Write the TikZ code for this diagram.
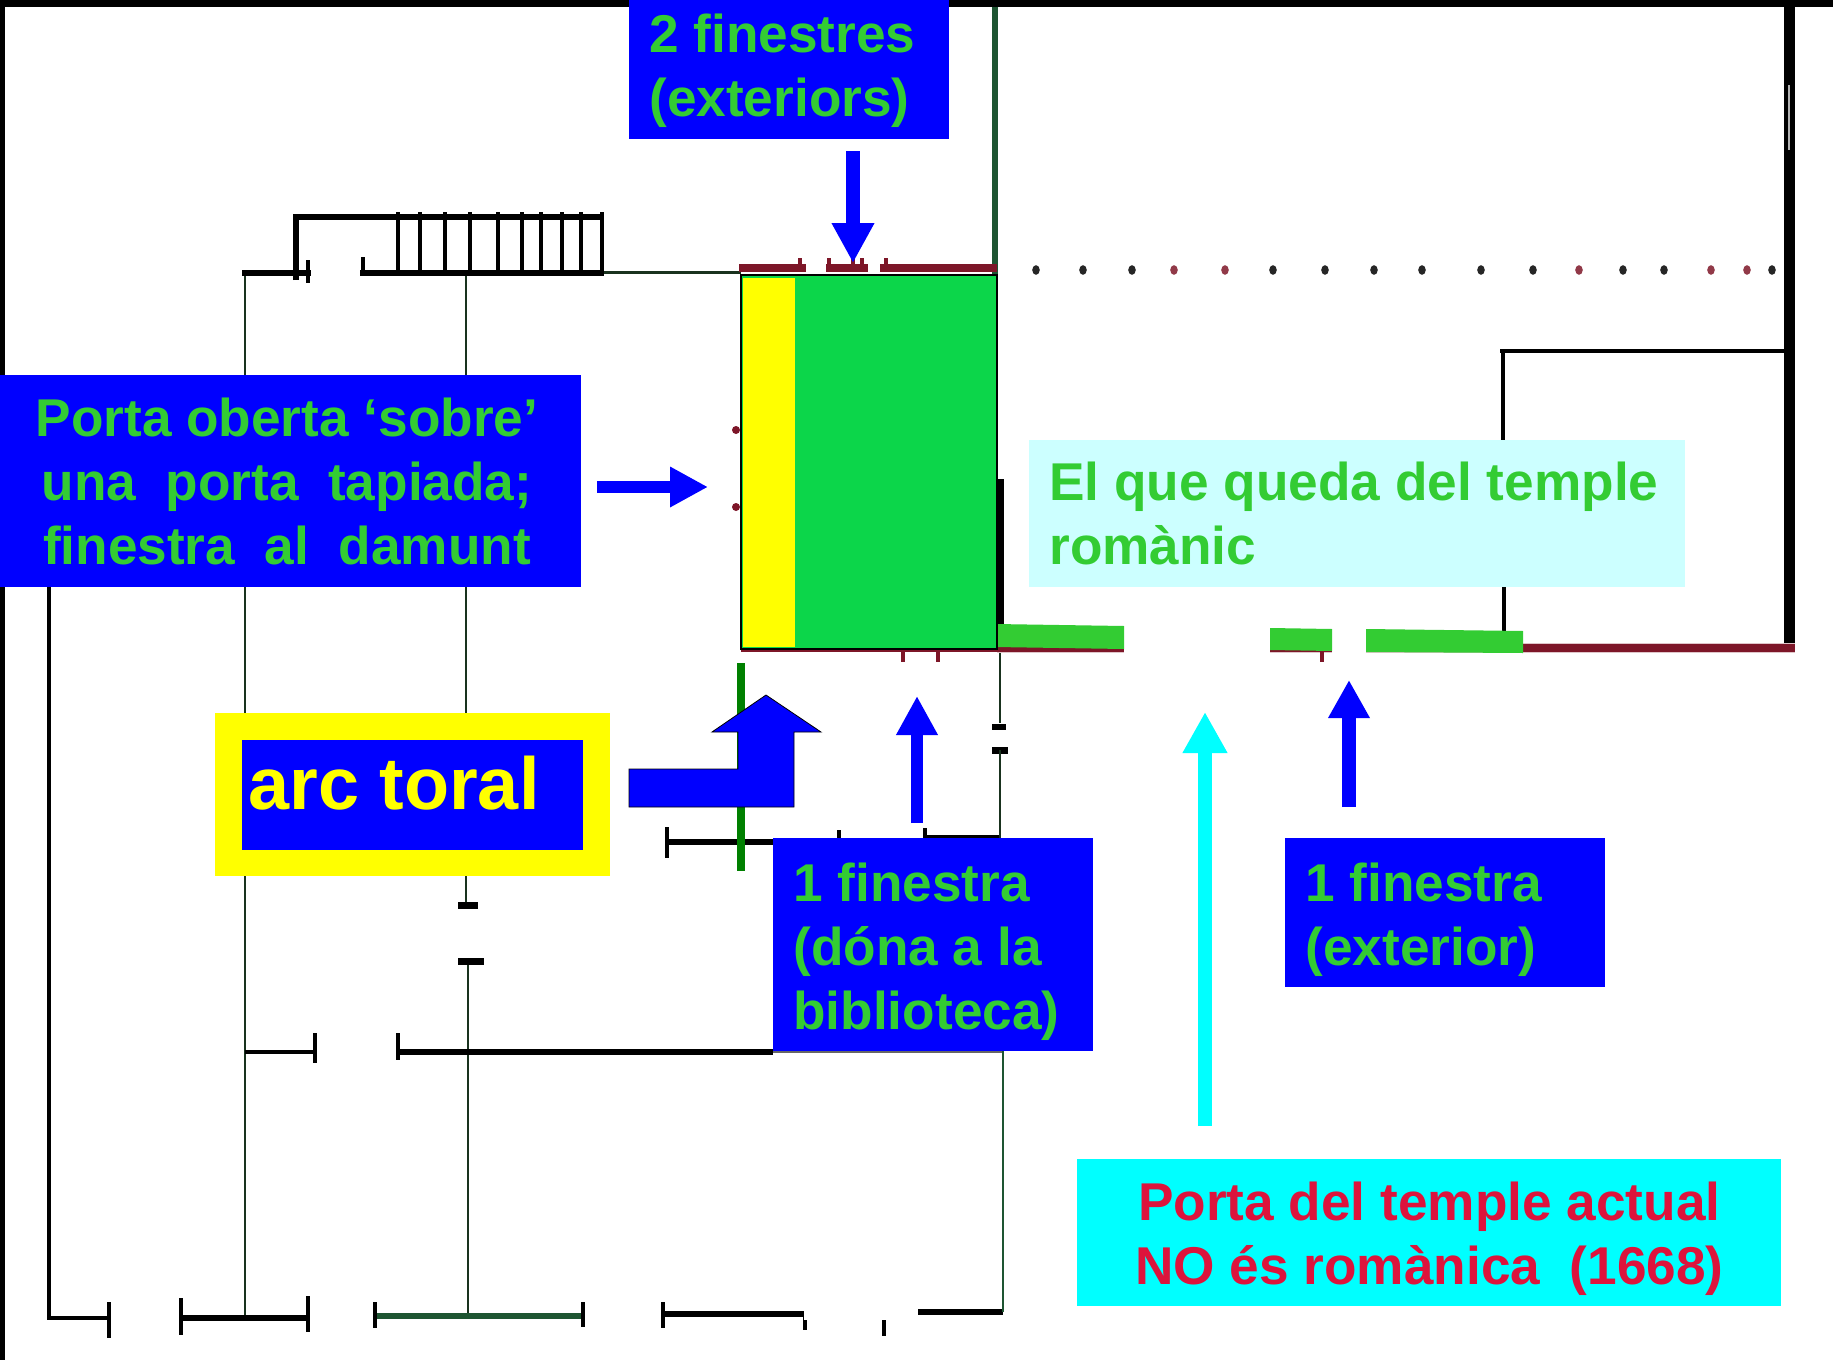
\documentclass[tikz,border=0pt]{standalone}
\usepackage{fontspec}
\setmainfont{Liberation Sans}
\usetikzlibrary{arrows.meta}
\definecolor{tblue}{RGB}{0,0,255}
\definecolor{tgreen}{RGB}{51,204,51}
\definecolor{roomgreen}{RGB}{12,214,74}
\definecolor{paleblue}{RGB}{204,255,255}
\definecolor{tcyan}{RGB}{0,255,255}
\definecolor{tyellow}{RGB}{255,255,0}
\definecolor{tred}{RGB}{220,20,60}
\definecolor{brick}{RGB}{125,22,40}
\definecolor{wallgreen}{RGB}{30,85,50}
\definecolor{inkgreen}{RGB}{25,50,30}
\definecolor{darkbar}{RGB}{0,128,0}
\tikzset{
  px/.style={x=0.5pt,y=-0.5pt},
  wall/.style={draw=black,line width=1.6pt},
  thinwall/.style={draw=inkgreen,line width=1.4pt},
  heavy/.style={draw=black,line width=2.6pt},
  tick/.style={draw=black,line width=2.2pt},
  brickline/.style={draw=brick,line width=3.6pt},
  labelbox/.style={rectangle,anchor=north west,inner ysep=0pt,font=\fontsize{26.6}{32}\selectfont\bfseries,text=tgreen,fill=tblue},
  upblue/.style={draw=tblue,line width=7pt,-{Triangle[length=19.5pt,width=20pt]}},
}
\begin{document}
\begin{tikzpicture}[px]
\useasboundingbox (0,0) rectangle (1833,1360);
\fill[white] (0,0) rectangle (1833,1360);
\fill[black] (0,0) rectangle (1833,7);
\fill[black] (0,0) rectangle (5,1360);

% --- plan: left part
\draw[wall] (49,560) -- (49,1318) -- (107,1318);
\draw[thinwall] (245,273) -- (245,1318);
\draw[thinwall] (466,273) -- (466,903);
\draw[thinwall] (468,961) -- (468,1316);
\draw[heavy] (242,273) -- (311,273);
\draw[heavy] (296,280) -- (296,217) -- (604,217);
\draw[heavy] (360,273) -- (604,273);
\draw[draw=inkgreen,line width=1.5pt] (604,272) -- (741,272);
\foreach \xb in {398,420,445,470,498,522,541,562,581,602}
  \draw[tick] (\xb,212) -- (\xb,273);
\draw[tick] (308,260) -- (308,283);
\draw[tick] (363,257) -- (363,275);
% cross walls
\draw[wall] (245,1052) -- (315,1052);
\draw[tick] (315,1033) -- (315,1063);
\draw[heavy] (398,1052) -- (773,1052);
\draw[tick] (398,1033) -- (398,1060);
\draw[draw=black!60,line width=.6pt] (773,1052) -- (1003,1052);
\draw[heavy] (667,842) -- (839,842);
\draw[tick] (667,827) -- (667,858);
\draw[tick] (839,830) -- (839,842);
\draw[heavy] (925,838) -- (1001,838);
\draw[tick] (925,828) -- (925,838);
\draw[line width=3.5pt] (458,905) -- (478,905);
\draw[line width=3.5pt] (458,961) -- (484,961);
% bottom wall
\draw[tick] (109,1302) -- (109,1338);
\draw[heavy] (181,1318) -- (308,1318);
\draw[tick] (181,1298) -- (181,1335);
\draw[tick] (308,1296) -- (308,1332);
\draw[draw=wallgreen,line width=2.6pt] (375,1316) -- (583,1316);
\draw[tick] (375,1302) -- (375,1328);
\draw[tick] (583,1302) -- (583,1327);
\draw[heavy] (663,1314) -- (804,1314);
\draw[tick] (663,1302) -- (663,1328);
\draw[tick] (805,1314) -- (805,1330);
\draw[tick] (884,1318) -- (884,1336);
\draw[heavy] (918,1312) -- (1003,1312);
% right-hand vertical of the nave
\draw[draw=wallgreen,line width=2.6pt] (995,7) -- (995,275);
\draw[draw=black,line width=3pt] (1001,479) -- (1001,625);
\draw[thinwall] (1000,649) -- (1000,723);
\draw[line width=3pt] (992,727) -- (1006,727);
\draw[line width=3.5pt] (992,750) -- (1008,750);
\draw[thinwall] (1000,750) -- (1000,838);
\draw[draw=wallgreen,line width=1.4pt] (1003,1051) -- (1003,1312);

% --- plan: right part
\draw[draw=black,line width=5.5pt] (1789,7) -- (1789,648);
\draw[draw=white!70!black,line width=.7pt] (1789,85) -- (1789,150);
\draw[wall] (1500,351) -- (1790,351);
\draw[wall] (1503,351) -- (1503,440);
\draw[draw=black,line width=2.4pt] (1504,587) -- (1504,649);
\draw[draw=brick!25,line width=5pt] (997,648) -- (1795,648);
\draw[brickline] (997,648) -- (1795,648);
\foreach \xd/\cd in {1036/black,1083/black,1132/black,1174/brick,1225/brick,1273/black,1325/black,1374/black,1422/black,1481/black,1533/black,1579/brick,1623/black,1664/black,1711/brick,1747/brick,1772/black}
  \fill[\cd!85!white] (\xd,270) ellipse (1.9pt and 2.4pt);

% red band above and ticks
\draw[brickline] (739,268) -- (806,268);
\draw[brickline] (826,268) -- (868,268);
\draw[brickline] (880,268) -- (997,268);
\draw[draw=brick,line width=2.4pt] (800,258) -- (800,270);
\draw[draw=brick,line width=2.4pt] (829,258) -- (829,270);
\draw[draw=brick,line width=2.4pt] (853,258) -- (853,270);
\draw[draw=brick,line width=2.4pt] (862,258) -- (862,270);
\draw[draw=brick,line width=2.4pt] (886,258) -- (886,270);
\draw[draw=brick,line width=1.4pt] (741,651) -- (997,651);
\draw[draw=brick,line width=2.4pt] (903,650) -- (903,662);
\draw[draw=brick,line width=2.4pt] (938,650) -- (938,662);
\fill[brick] (736,430) circle (2pt);
\fill[brick] (736,507) circle (2pt);

% --- white patches and green strips
\fill[white] (1124,600) rectangle (1270,680);
\draw[brick,line width=2.4pt] (1322,652) -- (1322,662);
\fill[white] (1332,614) rectangle (1366,680);
\fill[tgreen] (995,624) -- (1124,626) -- (1124,649) -- (995,647) -- cycle;
\fill[tgreen] (1270,628) -- (1332,629) -- (1332,651) -- (1270,650) -- cycle;
\fill[tgreen] (1366,629) -- (1523,631) -- (1523,653) -- (1366,652) -- cycle;
\fill[white] (804,1320) rectangle (918,1300);

% --- coloured room
\node[rectangle,draw=black,line width=1.2pt,fill=roomgreen,anchor=north west,minimum width=128pt,minimum height=187pt,inner sep=0pt] (room) at (740,274) {};
\fill[tyellow] (743,278) rectangle (795,647);
\draw[draw=darkbar,line width=3.6pt] (741,663) -- (741,871);

% --- label boxes
\node[labelbox,inner xsep=10pt,text width=140pt,minimum height=69.5pt,align=flush left] (twofin) at (629,0) {\rule{0pt}{20.6pt}2 finestres\\(exteriors)};
\node[labelbox,inner xsep=4pt,text width=282.5pt,minimum height=106pt,align=flush center] (porta) at (0,375) {Porta oberta ‘sobre’\kern4pt\\una\ \ porta\ \ tapiada;\kern4pt\\finestra\ \ al\ \ damunt\kern4pt};
\node[labelbox,fill=paleblue,inner xsep=10pt,text width=308pt,minimum height=73.5pt,align=flush left] (queda) at (1029,440) {\mbox{El que queda del temple}\\romànic};
\node[labelbox,inner xsep=10pt,text width=140pt,minimum height=106.5pt,align=flush left] (bibl) at (773,838) {\rule{0pt}{26.4pt}1 finestra\\(dóna a la\\biblioteca)};
\node[labelbox,inner xsep=10pt,text width=140pt,minimum height=74.5pt,align=flush left] (ext) at (1285,838) {\rule{0pt}{26.4pt}1 finestra\\(exterior)};
\node[labelbox,fill=tcyan,text=tred,inner xsep=6pt,text width=340pt,minimum height=73.5pt,align=flush center] (actual) at (1077,1159) {\rule{0pt}{25.2pt}Porta del temple actual\\NO és romànica\ \ (1668)};
\node[rectangle,anchor=north west,fill=tyellow,minimum width=197.5pt,minimum height=81.5pt,inner sep=0pt] (toralframe) at (215,713) {};
\node[rectangle,anchor=north west,fill=tblue,text=tyellow,minimum width=170.5pt,minimum height=55pt,inner xsep=3pt,inner ysep=0pt,text width=164.5pt,align=flush left,font=\fontsize{36.9}{44}\selectfont\bfseries] (toral) at (242,740) {arc toral\rule[-13pt]{0pt}{13pt}};

% --- arrows
\coordinate (a1s) at (853,151); \coordinate (a1e) at (853,263);
\coordinate (a2s) at (597,487); \coordinate (a2e) at (708,487);
\coordinate (a3s) at (917,823); \coordinate (a3e) at (917,696);
\coordinate (a4s) at (1349,807); \coordinate (a4e) at (1349,680);
\coordinate (a5s) at (1205,1126); \coordinate (a5e) at (1205,712);
\draw[upblue,line width=7pt,-{Triangle[length=20pt,width=20pt]}] (a1s) -- (a1e);
\draw[upblue,line width=6pt,-{Triangle[length=19pt,width=19pt]}] (a2s) -- (a2e);
\draw[upblue,line width=6pt,-{Triangle[length=19.5pt,width=19.5pt]}] (a3s) -- (a3e);
\draw[upblue,line width=7pt,-{Triangle[length=19pt,width=19.5pt]}] (a4s) -- (a4e);
\draw[draw=tcyan,line width=7pt,-{Triangle[length=20.5pt,width=21pt]}] (a5s) -- (a5e);
\draw[draw=black,line width=.4pt,fill=tblue] (629,769) -- (738,769) -- (738,732) -- (712,732) -- (766,695) -- (821,732) -- (794,732) -- (794,807) -- (629,807) -- cycle;
\end{tikzpicture}
\end{document}
